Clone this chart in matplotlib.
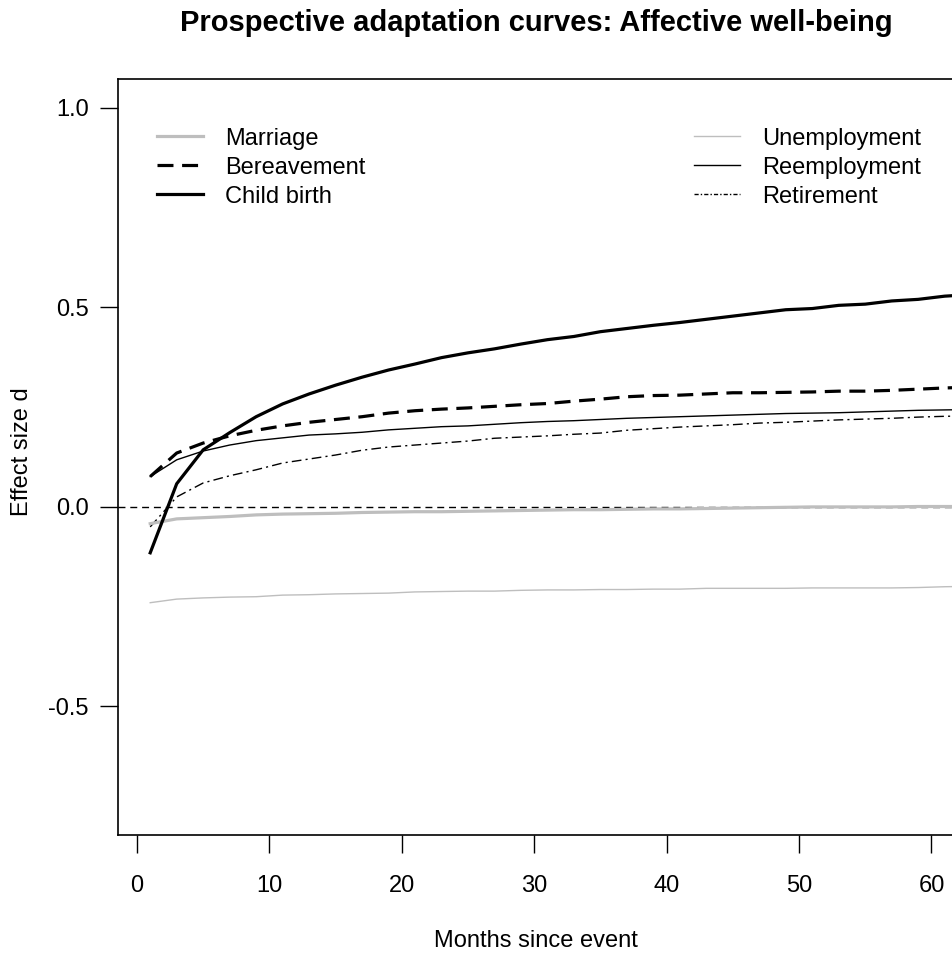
import matplotlib
matplotlib.use("Agg")
import matplotlib.pyplot as plt
from matplotlib.lines import Line2D

plt.rcParams['font.family'] = ['Liberation Sans', 'DejaVu Sans']

# months since event (every second month)
months = list(range(1, 64, 2))

marriage = [-0.042, -0.030, -0.027, -0.024, -0.020, -0.018, -0.017, -0.016,
            -0.014, -0.013, -0.012, -0.012, -0.011, -0.010, -0.009, -0.008,
            -0.007, -0.007, -0.006, -0.005, -0.005, -0.004, -0.003, -0.002,
            -0.001, 0.000, 0.000, 0.000, 0.000, 0.001, 0.001, 0.001]
bereavement = [0.076, 0.135, 0.160, 0.178, 0.192, 0.203, 0.212, 0.219,
               0.226, 0.235, 0.241, 0.245, 0.248, 0.252, 0.256, 0.259,
               0.265, 0.270, 0.276, 0.279, 0.280, 0.283, 0.286, 0.286,
               0.287, 0.288, 0.290, 0.290, 0.292, 0.295, 0.298, 0.300]
child_birth = [-0.115, 0.058, 0.143, 0.186, 0.226, 0.258, 0.283, 0.305,
               0.325, 0.343, 0.358, 0.374, 0.386, 0.396, 0.408, 0.419,
               0.427, 0.439, 0.447, 0.455, 0.462, 0.470, 0.478, 0.486,
               0.494, 0.497, 0.505, 0.508, 0.516, 0.520, 0.528, 0.532]
unemployment = [-0.240, -0.231, -0.228, -0.226, -0.225, -0.221, -0.220, -0.218,
                -0.217, -0.216, -0.213, -0.212, -0.211, -0.211, -0.209, -0.208,
                -0.208, -0.207, -0.207, -0.206, -0.206, -0.204, -0.204, -0.204,
                -0.204, -0.203, -0.203, -0.203, -0.203, -0.202, -0.200, -0.199]
reemployment = [0.076, 0.118, 0.140, 0.155, 0.166, 0.173, 0.180, 0.183,
                0.187, 0.193, 0.197, 0.201, 0.203, 0.207, 0.211, 0.214,
                0.216, 0.219, 0.222, 0.224, 0.226, 0.228, 0.230, 0.232,
                0.234, 0.235, 0.236, 0.238, 0.240, 0.242, 0.243, 0.244]
retirement = [-0.050, 0.025, 0.060, 0.078, 0.093, 0.110, 0.120, 0.130,
              0.142, 0.150, 0.155, 0.160, 0.165, 0.172, 0.175, 0.178,
              0.182, 0.185, 0.192, 0.196, 0.200, 0.203, 0.206, 0.210,
              0.212, 0.215, 0.218, 0.220, 0.222, 0.225, 0.227, 0.228]

fig = plt.figure(figsize=(9.52, 9.58), dpi=100)
# plot region runs past the right edge of the picture, as in the original
ax = fig.add_axes([0.1240, 0.1284, 0.9156, 0.7891])

gris = '#bebebe'
tiret = (0, (5, 2.7))
pointtiret = (0, (7, 3, 1.5, 3))

ax.axhline(0, color='black', lw=1, ls=(0, (5, 3.5)))
ax.plot(months, unemployment, color=gris, lw=1)
ax.plot(months, reemployment, color='black', lw=1)
ax.plot(months, retirement, color='black', lw=1, ls=pointtiret)
ax.plot(months, marriage, color=gris, lw=2.3)
ax.plot(months, bereavement, color='black', lw=2.3, ls=tiret)
ax.plot(months, child_birth, color='black', lw=2.3)

ax.set_xlim(-1.43, 64.4)
ax.set_ylim(-0.822, 1.072)
ax.set_xticks([0, 10, 20, 30, 40, 50, 60])
ax.set_yticks([-0.5, 0.0, 0.5, 1.0])
ax.set_yticklabels(['-0.5', '0.0', '0.5', '1.0'])
ax.tick_params(labelsize=17, length=13, width=1)
ax.tick_params(axis='x', pad=16)
ax.tick_params(axis='y', pad=8)
for s in ax.spines.values():
    s.set_linewidth(1.2)

fig.text(0.563, 0.9676, 'Prospective adaptation curves: Affective well-being',
         ha='center', va='baseline', fontsize=21, fontweight='bold')
fig.text(0.563, 0.0292, 'Months since event', ha='center', va='top', fontsize=17)
fig.text(0.023, 0.529, 'Effect size d', ha='center', va='center',
         rotation=90, fontsize=17)

h_gauche = [Line2D([], [], color=gris, lw=2.3),
            Line2D([], [], color='black', lw=2.3, ls=tiret),
            Line2D([], [], color='black', lw=2.3)]
h_droite = [Line2D([], [], color=gris, lw=1),
            Line2D([], [], color='black', lw=1),
            Line2D([], [], color='black', lw=1, ls=(0, (3, 1.5, 1, 1.5)))]
options = dict(loc='upper left', frameon=False, fontsize=17, handlelength=1.95,
               handletextpad=0.93, labelspacing=0.3, borderaxespad=0, borderpad=0)
fig.legend(h_gauche, ['Marriage', 'Bereavement', 'Child birth'],
           bbox_to_anchor=(0.1649, 0.8669), **options)
fig.legend(h_droite, ['Unemployment', 'Reemployment', 'Retirement'],
           bbox_to_anchor=(0.729, 0.8669), **options)

fig.savefig('out.png', dpi=100)
